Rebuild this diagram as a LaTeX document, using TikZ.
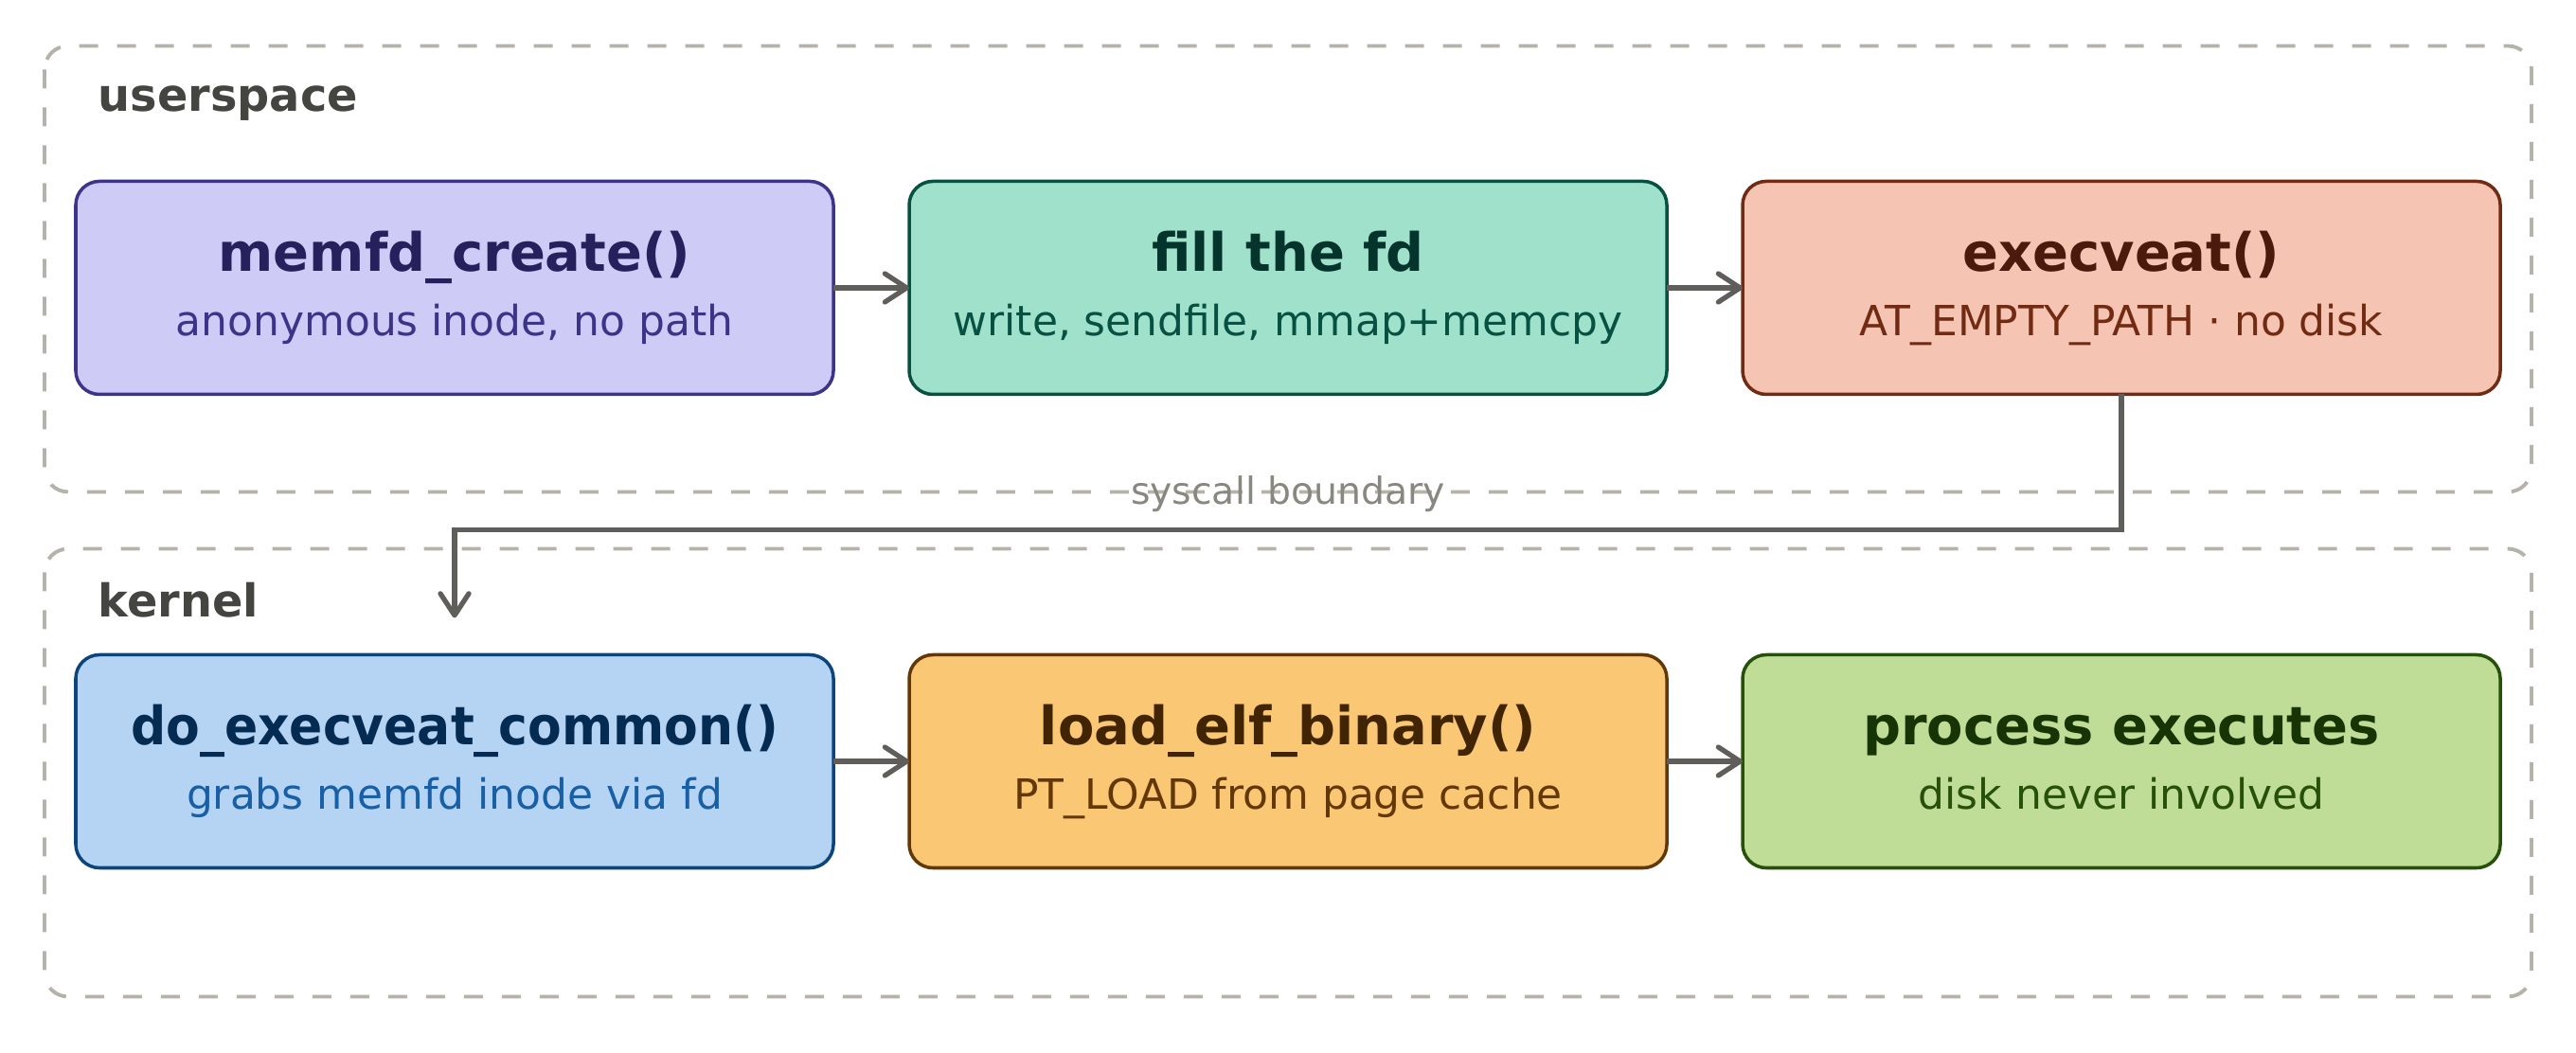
\documentclass[tikz,border=0pt]{standalone}
\usepackage{fontspec}
\setmainfont{DejaVu Sans}
\usetikzlibrary{positioning,arrows.meta}

\definecolor{purplefill}{HTML}{CECBF6}
\definecolor{purpleline}{HTML}{3C3489}
\definecolor{purpletitle}{HTML}{26215C}
\definecolor{tealfill}{HTML}{9FE1CB}
\definecolor{tealline}{HTML}{085041}
\definecolor{tealtitle}{HTML}{04342C}
\definecolor{coralfill}{HTML}{F5C4B3}
\definecolor{coralline}{HTML}{712B13}
\definecolor{coraltitle}{HTML}{4A1B0C}
\definecolor{bluefill}{HTML}{B5D4F4}
\definecolor{blueline}{HTML}{0C447C}
\definecolor{bluetitle}{HTML}{042C53}
\definecolor{bluesub}{HTML}{185FA5}
\definecolor{amberfill}{HTML}{FAC775}
\definecolor{amberline}{HTML}{633806}
\definecolor{ambertitle}{HTML}{412402}
\definecolor{greenfill}{HTML}{C0DD97}
\definecolor{greenline}{HTML}{27500A}
\definecolor{greentitle}{HTML}{173404}
\definecolor{grpline}{HTML}{B4B2A9}
\definecolor{grplabel}{HTML}{444441}
\definecolor{bndtext}{HTML}{888780}
\definecolor{flowgray}{HTML}{5F5E5A}

\newcommand{\boxtext}[4]{{\color{#1}\fontsize{15.9}{19.35}\selectfont\bfseries\vphantom{Ap(}#2}\\{\color{#3}\vphantom{Ag}#4}}

\tikzset{
  fnbox/.style={draw, outer sep=0, inner sep=0, line width=1pt, rounded corners=0.25cm, minimum width=8cm, minimum height=2.25cm, align=center, font=\fontsize{12.5}{19.35}\selectfont},
  group/.style={draw=grpline, line width=1.1pt, dash pattern=on 0.2cm off 0.2cm, rounded corners=0.25cm},
  grouplabel/.style={inner sep=0, text=grplabel, font=\fontsize{13.6}{16}\selectfont\bfseries},
  boundary/.style={inner sep=0, text=bndtext, font=\fontsize{11.2}{13}\selectfont},
  flow/.style={draw=flowgray, line width=1.5pt, -{Straight Barb[length=0.23cm, width=0.3cm, round]}}
}

\begin{document}
\begin{tikzpicture}
      \useasboundingbox (0,0) rectangle (27.2,11.12);

      \node[fnbox, draw=purpleline, fill=purplefill, anchor=west] (memfd) at (0.8,8.08) {\boxtext{purpletitle}{memfd\_create()}{purpleline}{anonymous inode, no path}};

      \node[fnbox, draw=tealline, fill=tealfill, right=0.8cm of memfd] (fillfd) {\boxtext{tealtitle}{fill the fd}{tealline}{write, sendfile, mmap+memcpy}};

      \node[fnbox, draw=coralline, fill=coralfill, right=0.8cm of fillfd] (execveat) {\boxtext{coraltitle}{execveat()}{coralline}{AT\_EMPTY\_PATH · no disk}};

      \node[fnbox, draw=blueline, fill=bluefill, below=2.75cm of memfd] (doexec) {\boxtext{bluetitle}{\scalebox{0.93}[1]{do\_execveat\_common()}}{bluesub}{grabs memfd inode via fd}};

      \node[fnbox, draw=amberline, fill=amberfill, right=0.8cm of doexec] (loadelf) {\boxtext{ambertitle}{load\_elf\_binary()}{amberline}{PT\_LOAD from page cache}};

      \node[fnbox, draw=greenline, fill=greenfill, right=0.8cm of loadelf] (procexec) {\boxtext{greentitle}{process executes}{greenline}{disk never involved}};

      % dashed groups
      \coordinate (user-nw) at ([xshift=-0.33cm, yshift=1.43cm]memfd.north west);
      \coordinate (user-se) at ([xshift=0.33cm, yshift=-1.03cm]execveat.south east);
      \draw[group] (user-nw) rectangle (user-se);
      \node[grouplabel, anchor=base west] (user-lbl) at ([xshift=0.56cm, yshift=-0.69cm]user-nw) {userspace};

      \coordinate (kern-nw) at ([xshift=-0.33cm, yshift=1.12cm]doexec.north west);
      \coordinate (kern-se) at ([xshift=0.33cm, yshift=-1.36cm]procexec.south east);
      \draw[group] (kern-nw) rectangle (kern-se);
      \node[grouplabel, anchor=base west] (kern-lbl) at ([xshift=0.56cm, yshift=-0.72cm]kern-nw) {kernel};

      \node[boundary, anchor=mid, yshift=-0.03cm] (syscall) at (fillfd.south |- user-se) {syscall boundary};

      % flow
      \draw[flow] (memfd) -- (fillfd);
      \draw[flow] (fillfd) -- (execveat);
      \coordinate (entry) at ([yshift=0.39cm]doexec.north);
      \draw[flow] (execveat.south) |- ([yshift=1.32cm]doexec.north) -- (entry);
      \draw[flow] (doexec) -- (loadelf);
      \draw[flow] (loadelf) -- (procexec);
\end{tikzpicture}
\end{document}
